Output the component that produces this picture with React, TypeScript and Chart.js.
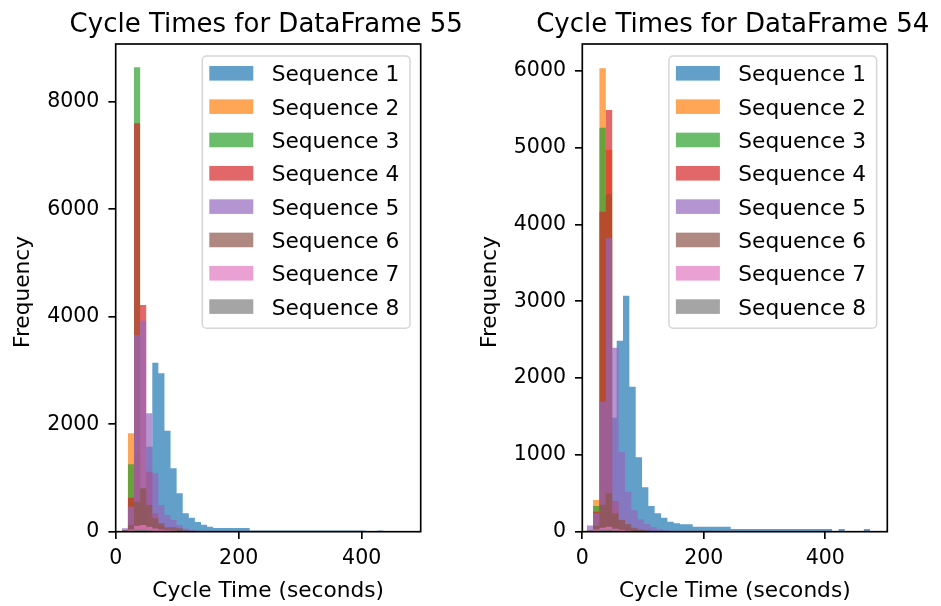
import React, { useEffect, useRef } from "react";
import { Chart, registerables } from "chart.js";

Chart.register(...registerables);

// ---------- data ----------
const SERIES_NAMES = [
  "Sequence 1", "Sequence 2", "Sequence 3", "Sequence 4",
  "Sequence 5", "Sequence 6", "Sequence 7", "Sequence 8",
];
const SERIES_COLORS = [
  "rgba(31,119,180,0.7)", "rgba(255,127,14,0.7)", "rgba(44,160,44,0.7)", "rgba(214,39,40,0.7)",
  "rgba(148,103,189,0.7)", "rgba(140,86,75,0.7)", "rgba(227,119,194,0.7)", "rgba(127,127,127,0.7)",
];

const X_TICKS = [0, 200, 400];
const DF55_Y_TICKS = [0, 2000, 4000, 6000, 8000];
const DF54_Y_TICKS = [0, 1000, 2000, 3000, 4000, 5000, 6000];
const DF55_X_RANGE = [0, 496];
const DF54_X_RANGE = [0, 502];
const DF55_Y_RANGE = [0, 9073];
const DF54_Y_RANGE = [0, 6350];

// DataFrame 55: first bin edge and bin width per sequence
const DF55_BIN_START = [10, 10, 10, 10, 10, 10, 10, 10];
const DF55_BIN_WIDTH = [9.9, 9.9, 9.9, 9.9, 9.9, 9.9, 9.9, 9.9];
const DF55_SEQ1 = [10, 40, 250, 800, 1581, 3145, 2947, 1879, 1179, 714, 342, 260, 180, 130, 93,
  68, 68, 68, 68, 68, 68,
  20, 20, 20, 20, 20, 20, 20, 20, 20, 20, 20, 20, 20, 20, 20, 20, 20, 20, 20,
  0, 0, 20];
const DF55_SEQ2 = [30, 1830, 1500, 300, 80, 30, 10];
const DF55_SEQ3 = [20, 1253, 8641, 500, 100, 30];
const DF55_SEQ4 = [10, 633, 7598, 4218, 1116, 350, 120, 50, 20];
const DF55_SEQ5 = [63, 465, 3660, 3926, 2202, 1087, 497, 310, 218, 125, 60, 30, 15];
const DF55_SEQ6 = [20, 125, 558, 807, 497, 249, 156, 82, 82, 63, 20];
const DF55_SEQ7 = [15, 40, 110, 125, 90, 60, 40, 30, 20, 15];
const DF55_SEQ8 = [5, 15, 40, 40, 25, 15, 10];

// DataFrame 54
const DF54_BIN_START = [4.45, 7.2, 7.2, 7.2, 7.2, 7.2, 7.2, 7.2];
const DF54_BIN_WIDTH = [10.43, 10.5, 10.5, 10.5, 10.5, 10.5, 10.5, 10.5];
const DF54_SEQ1 = [5, 20, 150, 600, 1484, 2487, 3073, 1888, 969, 578, 335, 240, 182, 130, 110, 96, 96,
  65, 65, 65, 65, 65, 65,
  35, 35, 35, 35, 35, 35, 35, 35, 35, 35, 35, 35, 35, 35, 35, 35,
  0, 35, 0, 0, 0, 35];
const DF54_SEQ2 = [20, 413, 6034, 4970, 300, 60, 20];
const DF54_SEQ3 = [15, 335, 5260, 4395, 200, 40];
const DF54_SEQ4 = [10, 260, 4167, 5490, 400, 150, 60, 20];
const DF54_SEQ5 = [80, 237, 1693, 3820, 2396, 1042, 520, 280, 160, 100, 60, 30, 15];
const DF54_SEQ6 = [10, 80, 350, 500, 240, 152, 100, 50, 30, 15];
const DF54_SEQ7 = [10, 30, 50, 65, 40, 25, 15];
const DF54_SEQ8 = [5, 10, 25, 30, 15, 10];

const DF55_COUNTS = [DF55_SEQ1, DF55_SEQ2, DF55_SEQ3, DF55_SEQ4, DF55_SEQ5, DF55_SEQ6, DF55_SEQ7, DF55_SEQ8];
const DF54_COUNTS = [DF54_SEQ1, DF54_SEQ2, DF54_SEQ3, DF54_SEQ4, DF54_SEQ5, DF54_SEQ6, DF54_SEQ7, DF54_SEQ8];

// ---------- helpers ----------
const FONT = "'DejaVu Sans', 'Liberation Sans', sans-serif";
const H = 606;

function histPoints(start: number, width: number, counts: number[]) {
  const pts = counts.map((c, i) => ({ x: start + i * width, y: c }));
  pts.push({ x: start + counts.length * width, y: 0 });
  return pts;
}

type PanelCfg = {
  title: string;
  left: number;
  width: number;
  areaLeft: number;
  areaRight: number;
  xRange: number[];
  yRange: number[];
  yTicks: number[];
  starts: number[];
  widths: number[];
  counts: number[][];
};

function decorPlugin(title: string) {
  return {
    id: "decor",
    afterDraw(chart: any) {
      const ctx: CanvasRenderingContext2D = chart.ctx;
      const a = chart.chartArea;
      ctx.save();
      // spines
      ctx.strokeStyle = "#000";
      ctx.lineWidth = 1.67;
      ctx.strokeRect(a.left, a.top, a.right - a.left, a.bottom - a.top);

      // legend
      const boxR = a.right - 10.7;
      const boxL = boxR - 207.7;
      const boxT = a.top + 12;
      const boxB = a.top + 284.3;
      const r = 4.3;
      ctx.beginPath();
      ctx.moveTo(boxL + r, boxT);
      ctx.lineTo(boxR - r, boxT);
      ctx.arcTo(boxR, boxT, boxR, boxT + r, r);
      ctx.lineTo(boxR, boxB - r);
      ctx.arcTo(boxR, boxB, boxR - r, boxB, r);
      ctx.lineTo(boxL + r, boxB);
      ctx.arcTo(boxL, boxB, boxL, boxB - r, r);
      ctx.lineTo(boxL, boxT + r);
      ctx.arcTo(boxL, boxT, boxL + r, boxT, r);
      ctx.closePath();
      ctx.fillStyle = "rgba(255,255,255,0.8)";
      ctx.fill();
      ctx.strokeStyle = "rgba(204,204,204,0.8)";
      ctx.lineWidth = 1.5;
      ctx.stroke();
      ctx.font = `21.7px ${FONT}`;
      ctx.textAlign = "left";
      ctx.textBaseline = "alphabetic";
      SERIES_NAMES.forEach((name, i) => {
        const cy = a.top + 29.3 + 33.33 * i;
        ctx.fillStyle = SERIES_COLORS[i];
        ctx.fillRect(boxL + 7, cy - 7.3, 44, 14.6);
        ctx.fillStyle = "#000";
        ctx.fillText(name, boxL + 69.4, cy + 8);
      });

      // title
      ctx.fillStyle = "#000";
      ctx.textAlign = "center";
      ctx.font = `26px ${FONT}`;
      ctx.fillText(title, (a.left + a.right) / 2 - 2, 32.3);
      // x label
      ctx.font = `21.7px ${FONT}`;
      ctx.fillText("Cycle Time (seconds)", (a.left + a.right) / 2, 597);
      // y label
      ctx.save();
      ctx.translate(a.left - 86.7, 292);
      ctx.rotate(-Math.PI / 2);
      ctx.fillText("Frequency", 0, 0);
      ctx.restore();
      ctx.restore();
    },
  };
}

function Panel({ cfg }: { cfg: PanelCfg }) {
  const ref = useRef<HTMLCanvasElement>(null);
  useEffect(() => {
    const datasets = cfg.counts.map((counts, i) => ({
      label: SERIES_NAMES[i],
      data: histPoints(cfg.starts[i], cfg.widths[i], counts),
      stepped: "before" as const,
      fill: "origin",
      backgroundColor: SERIES_COLORS[i],
      borderColor: "rgba(0,0,0,0)",
      borderWidth: 0,
      pointRadius: 0,
      pointHoverRadius: 0,
      order: 8 - i,
    }));
    const tickFont = { family: FONT, size: 20.5 };
    const chart = new Chart(ref.current!, {
      type: "line",
      data: { datasets: datasets as any },
      options: {
        responsive: false,
        maintainAspectRatio: false,
        animation: false,
        events: [],
        layout: { padding: { top: 44, right: cfg.width - cfg.areaRight, bottom: 0, left: 0 } },
        plugins: {
          legend: { display: false },
          title: { display: false },
          tooltip: { enabled: false },
        },
        scales: {
          x: {
            type: "linear",
            min: cfg.xRange[0],
            max: cfg.xRange[1],
            afterBuildTicks: (s: any) => { s.ticks = X_TICKS.map((v) => ({ value: v })); },
            afterFit: (s: any) => { s.height = H - 531.7; },
            grid: { display: true, drawOnChartArea: false, drawTicks: true, tickLength: 7.3, tickWidth: 1.67, lineWidth: 1.67, tickColor: "#000", color: "#000" },
            border: { display: false },
            ticks: { autoSkip: false, maxRotation: 0, padding: 7.7, color: "#000", font: tickFont, callback: (v: any) => String(v) },
          },
          y: {
            type: "linear",
            min: cfg.yRange[0],
            max: cfg.yRange[1],
            afterBuildTicks: (s: any) => { s.ticks = cfg.yTicks.map((v) => ({ value: v })); },
            afterFit: (s: any) => { s.width = cfg.areaLeft; },
            grid: { display: true, drawOnChartArea: false, drawTicks: true, tickLength: 7.3, tickWidth: 1.67, lineWidth: 1.67, tickColor: "#000", color: "#000" },
            border: { display: false },
            ticks: { autoSkip: false, padding: 9, color: "#000", font: tickFont, callback: (v: any) => String(v) },
          },
        },
      } as any,
      plugins: [decorPlugin(cfg.title)],
    });
    return () => chart.destroy();
  }, []);
  return (
    <canvas
      ref={ref}
      width={cfg.width}
      height={H}
      style={{ position: "absolute", left: cfg.left, top: 0, width: cfg.width, height: H, display: "block" }}
    />
  );
}

const LEFT_PANEL: PanelCfg = {
  title: "Cycle Times for DataFrame 55",
  left: 0, width: 470, areaLeft: 115.7, areaRight: 420.7,
  xRange: DF55_X_RANGE, yRange: DF55_Y_RANGE, yTicks: DF55_Y_TICKS,
  starts: DF55_BIN_START, widths: DF55_BIN_WIDTH, counts: DF55_COUNTS,
};
const RIGHT_PANEL: PanelCfg = {
  title: "Cycle Times for DataFrame 54",
  left: 470, width: 471, areaLeft: 112.3, areaRight: 417.3,
  xRange: DF54_X_RANGE, yRange: DF54_Y_RANGE, yTicks: DF54_Y_TICKS,
  starts: DF54_BIN_START, widths: DF54_BIN_WIDTH, counts: DF54_COUNTS,
};

export default function App() {
  return (
    <div style={{ position: "absolute", left: 0, top: 0, width: 941, height: H, background: "#fff" }}>
      <Panel cfg={LEFT_PANEL} />
      <Panel cfg={RIGHT_PANEL} />
    </div>
  );
}
